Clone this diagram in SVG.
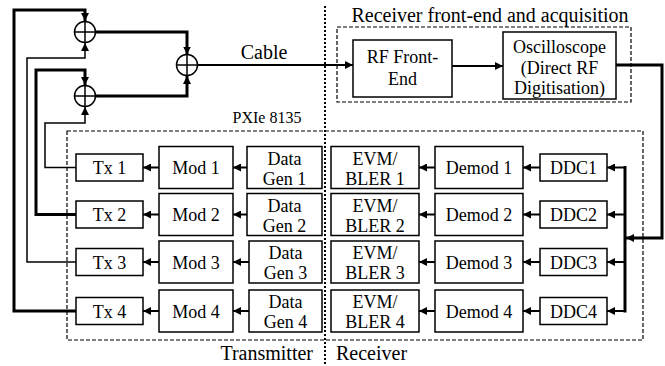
<svg xmlns="http://www.w3.org/2000/svg" width="665" height="366" viewBox="0 0 665 366">
<defs>
<marker id="ah" viewBox="0 0 10 10" refX="10" refY="5" markerWidth="8" markerHeight="8" markerUnits="userSpaceOnUse" orient="auto"><path d="M0,0 L10,5 L0,10 z" fill="#000"/></marker>
<style>
.box{fill:#fff;stroke:#000;stroke-width:1.5}
.t{font-family:"Liberation Serif","Times New Roman",serif;font-size:18px;fill:#000;text-anchor:middle}
.lbl{font-family:"Liberation Serif","Times New Roman",serif;font-size:20px;fill:#000}
.dash{fill:none;stroke:#000;stroke-width:1.2;stroke-dasharray:4 2}
.dot{fill:none;stroke:#000;stroke-width:2;stroke-dasharray:2 2}
.thick{fill:none;stroke:#000;stroke-width:3}
.thin{fill:none;stroke:#000;stroke-width:1.5}
.arr{fill:none;stroke:#000;stroke-width:2;marker-end:url(#ah)}
.add{fill:#fff;stroke:#000;stroke-width:1.5}
</style>
</defs>
<rect width="665" height="366" fill="#fff"/>

<g id="regions">
<rect class="dash" x="67" y="131" width="576" height="209"/>
<rect class="dash" x="337" y="27" width="294" height="75"/>
<line class="dot" x1="325" y1="6" x2="325" y2="366"/>
<text class="lbl" x="490" y="22" text-anchor="middle">Receiver front-end and acquisition</text>
<text class="t" x="267" y="123" style="font-size:16px">PXIe 8135</text>
<text class="lbl" x="313" y="360" text-anchor="end">Transmitter</text>
<text class="lbl" x="336" y="360">Receiver</text>
<text class="lbl" x="264" y="59" text-anchor="middle">Cable</text>
</g>

<g id="connectors">
<path class="thick" d="M76,311 H14 V10 H85 V21" marker-end="url(#ah)"/>
<path class="thin" d="M76,262 H27 V58 H85 V43" marker-end="url(#ah)"/>
<path class="thick" d="M76,214.5 H36 V70 H85 V85" marker-end="url(#ah)"/>
<path class="thin" d="M76,167.5 H45 V123 H85 V107" marker-end="url(#ah)"/>
<path class="thick" d="M95,32 H187 V54.5" marker-end="url(#ah)"/>
<path class="thick" d="M95,96 H187 V76" marker-end="url(#ah)"/>
<path class="arr" d="M197,65 H353"/>
<path class="arr" d="M452,66 H503"/>
<path class="thick" d="M616,65 H662 V238 H626" marker-end="url(#ah)"/>
<line class="thick" x1="625" y1="166" x2="625" y2="312.5"/>
<path class="arr" d="M625,167.5 H607"/>
<path class="arr" d="M625,214.5 H607"/>
<path class="arr" d="M625,262 H607"/>
<path class="arr" d="M625,311 H607"/>
<path class="arr" d="M540,167.5 H523"/>
<path class="arr" d="M540,214.5 H523"/>
<path class="arr" d="M540,262 H523"/>
<path class="arr" d="M540,311 H523"/>
<path class="arr" d="M435,167.5 H419"/>
<path class="arr" d="M435,214.5 H419"/>
<path class="arr" d="M435,262 H419"/>
<path class="arr" d="M435,311 H419"/>
<path class="arr" d="M247,167.5 H233"/>
<path class="arr" d="M247,214.5 H233"/>
<path class="arr" d="M249,262 H233"/>
<path class="arr" d="M249,311 H233"/>
<path class="arr" d="M159,167.5 H143"/>
<path class="arr" d="M159,214.5 H143"/>
<path class="arr" d="M159,262 H143"/>
<path class="arr" d="M159,311 H143"/>
</g>

<g id="adder1"><circle class="add" cx="85" cy="32" r="10.5"/><path class="thin" d="M74.5,32 H95.5 M85,21.5 V42.5"/></g>
<g id="adder2"><circle class="add" cx="85" cy="96" r="10.5"/><path class="thin" d="M74.5,96 H95.5 M85,85.5 V106.5"/></g>
<g id="adder3"><circle class="add" cx="187" cy="65" r="10.5"/><path class="thin" d="M176.5,65 H197.5 M187,54.5 V75.5"/></g>

<g id="rf"><rect class="box" x="353" y="40" width="99" height="57"/><text class="t" x="402.5" y="63">RF Front-</text><text class="t" x="402.5" y="85">End</text></g>
<g id="osc"><rect class="box" x="503" y="32" width="113" height="67"/><text class="t" x="559.5" y="53">Oscilloscope</text><text class="t" x="559.5" y="74">(Direct RF</text><text class="t" x="559.5" y="94">Digitisation)</text></g>

<g id="tx1"><rect class="box" x="76" y="154" width="67" height="27"/><text class="t" x="109.5" y="174">Tx 1</text></g>
<g id="tx2"><rect class="box" x="76" y="201" width="67" height="27"/><text class="t" x="109.5" y="221">Tx 2</text></g>
<g id="tx3"><rect class="box" x="76" y="248.5" width="67" height="27"/><text class="t" x="109.5" y="268.5">Tx 3</text></g>
<g id="tx4"><rect class="box" x="76" y="297.5" width="67" height="27"/><text class="t" x="109.5" y="317.5">Tx 4</text></g>

<g id="mod1"><rect class="box" x="159" y="146.5" width="74" height="42"/><text class="t" x="196" y="174">Mod 1</text></g>
<g id="mod2"><rect class="box" x="159" y="193.5" width="74" height="42"/><text class="t" x="196" y="221">Mod 2</text></g>
<g id="mod3"><rect class="box" x="159" y="241" width="74" height="42"/><text class="t" x="196" y="268.5">Mod 3</text></g>
<g id="mod4"><rect class="box" x="159" y="290" width="74" height="42"/><text class="t" x="196" y="317.5">Mod 4</text></g>

<g id="gen1"><rect class="box" x="247" y="146.5" width="75" height="42"/><text class="t" x="284.5" y="164.5">Data</text><text class="t" x="284.5" y="184.5">Gen 1</text></g>
<g id="gen2"><rect class="box" x="247" y="193.5" width="75" height="42"/><text class="t" x="284.5" y="211.5">Data</text><text class="t" x="284.5" y="231.5">Gen 2</text></g>
<g id="gen3"><rect class="box" x="249" y="241" width="73" height="42"/><text class="t" x="285.5" y="259">Data</text><text class="t" x="285.5" y="279">Gen 3</text></g>
<g id="gen4"><rect class="box" x="249" y="290" width="73" height="42"/><text class="t" x="285.5" y="308">Data</text><text class="t" x="285.5" y="328">Gen 4</text></g>

<g id="evm1"><rect class="box" x="331" y="146.5" width="88" height="42"/><text class="t" x="375" y="164.5">EVM/</text><text class="t" x="375" y="184.5">BLER 1</text></g>
<g id="evm2"><rect class="box" x="331" y="193.5" width="88" height="42"/><text class="t" x="375" y="211.5">EVM/</text><text class="t" x="375" y="231.5">BLER 2</text></g>
<g id="evm3"><rect class="box" x="331" y="241" width="88" height="42"/><text class="t" x="375" y="259">EVM/</text><text class="t" x="375" y="279">BLER 3</text></g>
<g id="evm4"><rect class="box" x="331" y="290" width="88" height="42"/><text class="t" x="375" y="308">EVM/</text><text class="t" x="375" y="328">BLER 4</text></g>

<g id="demod1"><rect class="box" x="435" y="146.5" width="88" height="42"/><text class="t" x="479" y="174">Demod 1</text></g>
<g id="demod2"><rect class="box" x="435" y="193.5" width="88" height="42"/><text class="t" x="479" y="221">Demod 2</text></g>
<g id="demod3"><rect class="box" x="435" y="241" width="88" height="42"/><text class="t" x="479" y="268.5">Demod 3</text></g>
<g id="demod4"><rect class="box" x="435" y="290" width="88" height="42"/><text class="t" x="479" y="317.5">Demod 4</text></g>

<g id="ddc1"><rect class="box" x="540" y="154" width="67" height="27"/><text class="t" x="573.5" y="174">DDC1</text></g>
<g id="ddc2"><rect class="box" x="540" y="201" width="67" height="27"/><text class="t" x="573.5" y="221">DDC2</text></g>
<g id="ddc3"><rect class="box" x="540" y="248.5" width="67" height="27"/><text class="t" x="573.5" y="268.5">DDC3</text></g>
<g id="ddc4"><rect class="box" x="540" y="297.5" width="67" height="27"/><text class="t" x="573.5" y="317.5">DDC4</text></g>
</svg>
